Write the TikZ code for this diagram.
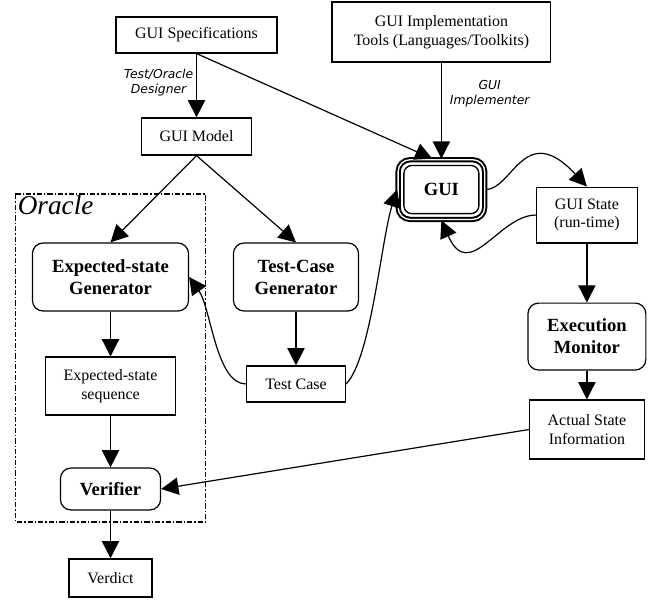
\documentclass[tikz,border=0pt]{standalone}
\usepackage{fontspec}
\setmainfont{Liberation Serif}
\newfontfamily\lblfont{DejaVu Sans}
\usepackage{tikz}
\usetikzlibrary{positioning,arrows.meta}

\tikzset{
  box/.style={draw, line width=0.9pt, align=center, inner sep=0pt,
    font=\fontsize{12}{14}\selectfont},
  bbox/.style={box, rounded corners=8pt, font=\fontsize{14}{16.5}\selectfont\bfseries},
  guibox/.style={bbox, double, double distance=1pt, line width=1.5pt, rounded corners=9pt},
  flow/.style={-{Triangle[length=13pt,width=13pt]}, line width=0.9pt},
  edgelbl/.style={font=\lblfont\itshape\fontsize{9.3}{11.5}\selectfont, align=center, inner sep=2pt},
  oracle/.style={line width=0.8pt, dash pattern=on 4pt off 1.5pt on 1pt off 1.5pt},
}

\begin{document}
\begin{tikzpicture}[on grid]
            \useasboundingbox (-5.2,0.926) rectangle (12.185,-15.003);

                \node[box, minimum width=4.26cm, minimum height=0.95cm] (spec) {GUI Specifications};
                \node[box, minimum width=5.79cm, minimum height=1.59cm, above right=0.08cm and 6.48cm of spec] (impl) {GUI Implementation\\Tools (Languages/Toolkits)};
                \node[box, minimum width=2.91cm, minimum height=0.98cm, below=2.686cm of spec] (model) {GUI Model};
                \node[guibox, minimum width=2.29cm, minimum height=1.58cm, below=4.17cm of impl] (gui) {GUI};
                \node[box, minimum width=2.67cm, minimum height=1.48cm, below right=0.675cm and 3.85cm of gui] (state) {GUI State\\(run-time)};
                \node[bbox, minimum width=3.12cm, minimum height=1.77cm, below=3.215cm of state] (monitor) {Execution\\Monitor};
                \node[box, minimum width=3.04cm, minimum height=1.56cm, below=2.46cm of monitor] (actual) {Actual State\\Information};
                \node[bbox, minimum width=4.13cm, minimum height=1.8cm, below left=3.718cm and 2.276cm of model] (esg) {Expected-state\\Generator};
                \node[bbox, minimum width=3.31cm, minimum height=1.8cm, right=4.908cm of esg] (tcg) {Test-Case\\Generator};
                \node[box, minimum width=2.62cm, minimum height=0.95cm, below=2.83cm of tcg] (tcase) {Test Case};
                \node[box, minimum width=3.44cm, minimum height=1.53cm, below=2.884cm of esg] (ess) {Expected-state\\sequence};
                \node[bbox, minimum width=2.65cm, minimum height=1.11cm, below=2.725cm of ess] (verifier) {Verifier};
                \node[box, minimum width=2.2cm, minimum height=1.01cm, below=2.355cm of verifier] (verdict) {Verdict};

                % inner line of the GUI box
                \draw[line width=1pt, rounded corners=6pt] ([shift={(5.1pt,5.1pt)}]gui.south west) rectangle ([shift={(-5.1pt,-5.1pt)}]gui.north east);

                % oracle frame
                \draw[oracle] ([shift={(-2.514,2.196)}]esg.center) rectangle ([shift={(2.514,-6.483)}]esg.center);
                \node[anchor=base west, inner sep=0pt, font=\fontsize{20.5}{21}\selectfont\itshape] (oraclelbl) at ([shift={(-2.46,1.667)}]esg.center) {Oracle};

                \draw[flow] (spec) -- node[edgelbl, left, pos=0.45] {Test/Oracle\\Designer} (model);
                \draw[flow] (spec.south) -- ([xshift=-0.24cm]gui.north);
                \draw[flow] (impl) -- node[edgelbl, right, pos=0.32, xshift=4pt] {GUI\\Implementer} (gui);
                \draw[flow] (model.south) -- (esg.north);
                \draw[flow] (model.south) -- (tcg.north);
                \draw[flow] (esg) -- (ess);
                \draw[flow] (ess) -- (verifier);
                \draw[flow] (verifier) -- (verdict);
                \draw[flow] (tcg) -- (tcase);
                \draw[flow] (state) -- (monitor);
                \draw[flow] (monitor) -- (actual);
                \draw[flow] (actual.west) -- (verifier.east);
                \draw[flow] (tcase.west) .. controls +(-0.79,0) and +(0.58,-0.82) .. (esg.east);
                \draw[flow] (tcase.east) .. controls +(0.66,0.66) and +(-0.42,-1.32) .. (gui.west);
                \draw[flow] (gui.east) .. controls +(0.71,0) and +(-1.65,1.77) .. (state.north);
                \draw[flow] (state.west) .. controls +(-0.98,0) and +(0.74,-1.67) .. (gui.south);
\end{tikzpicture}
\end{document}
